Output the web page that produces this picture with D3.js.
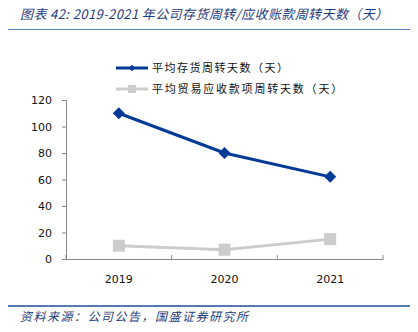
<!DOCTYPE html>
<html><head><meta charset="utf-8">
<script src="https://cdn.jsdelivr.net/npm/d3@7"></script>
<style>body{margin:0;background:#fff}</style>
</head><body><svg id="c" width="418" height="332"></svg>
<script>
const categories = ["2019","2020","2021"];
const inventoryDays = [110, 80, 62];
const receivableDays = [10, 7, 15];
const yTicks = [0,20,40,60,80,100,120];
const seriesNames = ["平均存货周转天数（天）","平均贸易应收款项周转天数（天）"];
const titleText = "图表 42:  2019-2021 年公司存货周转/应收账款周转天数（天）";
const sourceText = "资料来源：公司公告，国盛证券研究所";

const svg = d3.select("#c");
const x = d3.scaleBand().domain(categories).range([66,383]);
const y = d3.scaleLinear().domain([0,120]).range([259,100]);
const cjk = "'Noto Sans CJK SC', sans-serif";

svg.append("text").attr("x",20).attr("y",19).attr("fill","#1f3b80")
  .attr("font-family",cjk).attr("font-style","italic").attr("font-size",13)
  .attr("letter-spacing",0.4).text(titleText);
svg.append("line").attr("x1",8).attr("x2",410).attr("y1",29.5).attr("y2",29.5)
  .attr("stroke","#5b7fb5").attr("stroke-width",1);

const gy = svg.append("g").attr("transform","translate(66,0)")
  .call(d3.axisLeft(y).tickValues(yTicks).tickSize(4).tickPadding(10));
const gx = svg.append("g").attr("transform","translate(0,259)")
  .call(d3.axisBottom(x).tickSize(0).tickPadding(16));
const bounds = categories.map(c=>x(c)).concat([x.range()[1]]);
gx.selectAll(".bt").data(bounds).enter().append("line")
  .attr("x1",d=>d).attr("x2",d=>d).attr("y1",0).attr("y2",-4).attr("stroke","#888");
[gy,gx].forEach(g=>{
  g.select(".domain").attr("stroke","#888");
  g.selectAll(".tick line").attr("stroke","#888");
  g.selectAll("text").attr("font-family","'DejaVu Sans', sans-serif").attr("font-size",11).attr("fill","#111");
});

const cx = c => x(c) + x.bandwidth()/2;
const line = d3.line().x((d,i)=>cx(categories[i])).y(d=>y(d));

svg.append("path").datum(receivableDays).attr("d",line).attr("fill","none")
  .attr("stroke","#cccccc").attr("stroke-width",3);
svg.selectAll(".sq").data(receivableDays).enter().append("rect")
  .attr("x",(d,i)=>cx(categories[i])-6).attr("y",d=>y(d)-6)
  .attr("width",12).attr("height",12).attr("fill","#cccccc");

svg.append("path").datum(inventoryDays).attr("d",line).attr("fill","none")
  .attr("stroke","#003a96").attr("stroke-width",3);
svg.selectAll(".dm").data(inventoryDays).enter().append("path")
  .attr("d",d3.symbol().type(d3.symbolSquare).size(72))
  .attr("transform",(d,i)=>`translate(${cx(categories[i])},${y(d)}) rotate(45)`)
  .attr("fill","#003a96");

const leg = svg.append("g");
const ly = [68, 89];
leg.append("line").attr("x1",116).attr("x2",148).attr("y1",ly[0]).attr("y2",ly[0]).attr("stroke","#003a96").attr("stroke-width",3);
leg.append("path").attr("d",d3.symbol().type(d3.symbolSquare).size(22)).attr("transform",`translate(132,${ly[0]}) rotate(45)`).attr("fill","#003a96");
leg.append("line").attr("x1",116).attr("x2",148).attr("y1",ly[1]).attr("y2",ly[1]).attr("stroke","#cccccc").attr("stroke-width",3);
leg.append("rect").attr("x",128).attr("y",ly[1]-4).attr("width",8).attr("height",8).attr("fill","#cccccc");
seriesNames.forEach((s,i)=>{
  leg.append("text").attr("x",152).attr("y",ly[i]+4).attr("font-family",cjk).attr("font-size",11)
    .attr("fill","#111").attr("letter-spacing",i===0?1.5:1.8).text(s);
});

svg.append("line").attr("x1",8).attr("x2",410).attr("y1",306).attr("y2",306)
  .attr("stroke","#1f4e9a").attr("stroke-width",1.5);
svg.append("text").attr("x",20).attr("y",321).attr("fill","#1f3b80")
  .attr("font-family",cjk).attr("font-style","italic").attr("font-size",12)
  .attr("letter-spacing",1.5).text(sourceText);
</script></body></html>
